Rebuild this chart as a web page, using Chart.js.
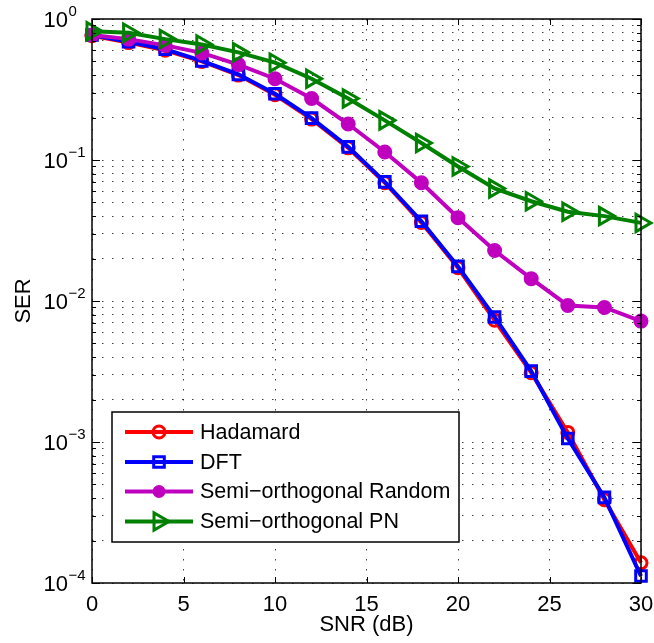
<!DOCTYPE html>
<html>
<head>
<meta charset="utf-8">
<script src="https://cdn.jsdelivr.net/npm/chart.js@4/dist/chart.umd.min.js"></script>
<style>
  body { margin: 0; background: #fff; }
  #wrap { width: 654px; height: 643px; }
</style>
</head>
<body>
<div id="wrap"><canvas id="chart" width="654" height="643"></canvas></div>
<script>
// SNR in dB
const snr = [0, 2, 4, 6, 8, 10, 12, 14, 16, 18, 20, 22, 24, 26, 28, 30];

// SER je Verfahren
const hadamard   = [0.76, 0.68, 0.60, 0.50, 0.40, 0.29, 0.195, 0.122, 0.069, 0.036, 0.0172, 0.0073, 0.0031, 0.00117, 0.00039, 0.000139];
const dft        = [0.77, 0.69, 0.61, 0.505, 0.405, 0.295, 0.198, 0.124, 0.070, 0.0368, 0.0176, 0.0077, 0.00318, 0.00106, 0.000405, 0.000112];
const semiRandom = [0.77, 0.72, 0.65, 0.575, 0.475, 0.377, 0.273, 0.18, 0.114, 0.069, 0.039, 0.0228, 0.0144, 0.0093, 0.0090, 0.0072];
const semiPN     = [0.82, 0.80, 0.72, 0.66, 0.58, 0.49, 0.377, 0.273, 0.191, 0.132, 0.090, 0.0628, 0.051, 0.043, 0.040, 0.0358];

const seriesNames = ['Hadamard', 'DFT', 'Semi\u2212orthogonal Random', 'Semi\u2212orthogonal PN'];

// Achsen-Ticks
const xTicks = [0, 5, 10, 15, 20, 25, 30];
const yDecades = [1e-4, 1e-3, 1e-2, 1e-1, 1];
const yExponents = ['\u22124', '\u22123', '\u22122', '\u22121', '0'];
const yMinorSteps = [2, 3, 4, 5, 6, 7, 8, 9];

const FONT = '"Liberation Sans", Arial, Helvetica, sans-serif';
Chart.defaults.color = '#000';
Chart.defaults.font.family = FONT;

// alle Gitterwerte der log-Achse
const yGrid = [];
yDecades.forEach((d, i) => {
  yGrid.push(d);
  if (i < yDecades.length - 1) yMinorSteps.forEach(s => yGrid.push(+(d * s).toPrecision(3)));
});

function toXY(vals) {
  return vals.map((v, i) => ({ x: snr[i], y: v }));
}

const styles = [
  { color: '#ff0000', pointStyle: 'circle', radius: 6, fill: 'rgba(0,0,0,0)', rotation: 0, order: 4 },
  { color: '#0000ff', pointStyle: 'rect', radius: 7.5, fill: 'rgba(0,0,0,0)', rotation: 0, order: 3 },
  { color: '#bf00bf', pointStyle: 'circle', radius: 6, fill: '#bf00bf', rotation: 0, order: 2 },
  { color: '#008000', pointStyle: 'triangle', radius: 10, fill: 'rgba(0,0,0,0)', rotation: 90, order: 1 }
];
const seriesData = [hadamard, dft, semiRandom, semiPN];

const datasets = seriesData.map((vals, i) => ({
  label: seriesNames[i],
  data: toXY(vals),
  borderColor: styles[i].color,
  backgroundColor: styles[i].fill,
  borderWidth: 4,
  pointStyle: styles[i].pointStyle,
  pointRadius: styles[i].radius,
  pointRotation: styles[i].rotation,
  pointBorderWidth: 3,
  pointBackgroundColor: styles[i].fill,
  pointBorderColor: styles[i].color,
  tension: 0,
  clip: false,
  order: styles[i].order
}));

// Rahmen, Ticks innen, y-Beschriftung, Legende
const matlabLook = {
  id: 'matlabLook',
  afterDraw(chart) {
    const { ctx, chartArea: a, scales } = chart;
    const xs = scales.x, ys = scales.y;
    ctx.save();

    // Rahmen
    ctx.strokeStyle = '#000';
    ctx.lineWidth = 1.5;
    ctx.setLineDash([]);
    ctx.strokeRect(a.left, a.top, a.right - a.left, a.bottom - a.top);

    // Ticks innen
    ctx.lineWidth = 1;
    ctx.beginPath();
    xTicks.forEach(v => {
      const px = Math.round(xs.getPixelForValue(v)) + 0.5;
      ctx.moveTo(px, a.bottom); ctx.lineTo(px, a.bottom - 6);
      ctx.moveTo(px, a.top); ctx.lineTo(px, a.top + 6);
    });
    yGrid.forEach(v => {
      const py = Math.round(ys.getPixelForValue(v)) + 0.5;
      const len = yDecades.includes(v) ? 8 : 4;
      ctx.moveTo(a.left, py); ctx.lineTo(a.left + len, py);
      ctx.moveTo(a.right, py); ctx.lineTo(a.right - len, py);
    });
    ctx.stroke();

    // y-Beschriftung 10^n
    ctx.fillStyle = '#000';
    yDecades.forEach((d, i) => {
      const py = ys.getPixelForValue(d);
      ctx.font = '22px ' + FONT;
      ctx.textAlign = 'right';
      ctx.textBaseline = 'middle';
      ctx.fillText('10', 68, py + 2);
      ctx.font = '15px ' + FONT;
      ctx.textAlign = 'left';
      ctx.fillText(yExponents[i], 68.5, py - 7);
    });

    // Legende
    const box = { left: 112, top: 412, right: 459, bottom: 542 };
    ctx.fillStyle = '#fff';
    ctx.fillRect(box.left, box.top, box.right - box.left, box.bottom - box.top);
    ctx.strokeStyle = '#000';
    ctx.lineWidth = 1.5;
    ctx.strokeRect(box.left, box.top, box.right - box.left, box.bottom - box.top);
    const rowY = [432, 462, 491.5, 521.5];
    chart.data.datasets.forEach((ds, i) => {
      const y = rowY[i];
      ctx.strokeStyle = ds.borderColor;
      ctx.lineWidth = 4;
      ctx.beginPath();
      ctx.moveTo(125, y); ctx.lineTo(193, y);
      ctx.stroke();
      ctx.fillStyle = ds.pointBackgroundColor;
      ctx.lineWidth = 3;
      Chart.helpers.drawPoint(ctx, {
        pointStyle: ds.pointStyle,
        radius: i === 2 ? 5 : ds.pointRadius,
        rotation: ds.pointRotation,
        borderWidth: 3
      }, 159, y);
      ctx.fillStyle = '#000';
      ctx.font = '21.5px ' + FONT;
      ctx.textAlign = 'left';
      ctx.textBaseline = 'middle';
      ctx.fillText(ds.label, 200, y + 1);
    });

    ctx.restore();
  }
};

new Chart(document.getElementById('chart'), {
  type: 'line',
  data: { datasets: datasets },
  options: {
    responsive: false,
    animation: false,
    layout: { padding: { top: 19, right: 12, left: 0, bottom: 0 } },
    plugins: { legend: { display: false }, tooltip: { enabled: false } },
    scales: {
      x: {
        type: 'linear',
        min: 0,
        max: 30,
        afterBuildTicks: s => { s.ticks = xTicks.map(v => ({ value: v })); },
        afterFit: s => { s.height = 60; s.paddingLeft = 0; s.paddingRight = 0; },
        ticks: { font: { size: 22 }, padding: 9, autoSkip: false, maxRotation: 0 },
        grid: { color: 'rgba(0,0,0,0.75)', lineWidth: 1, drawTicks: false },
        border: { display: false, dash: [1.5, 8.5] },
        title: { display: true, text: 'SNR (dB)', font: { size: 22 }, padding: { top: 0, bottom: 5 } }
      },
      y: {
        type: 'logarithmic',
        min: 1e-4,
        max: 1,
        afterBuildTicks: s => { s.ticks = yGrid.map(v => ({ value: v })); },
        afterFit: s => { s.width = 92; s.paddingTop = 0; s.paddingBottom = 0; },
        ticks: { display: false, autoSkip: false },
        grid: { color: 'rgba(0,0,0,0.75)', lineWidth: 1, drawTicks: false },
        border: { display: false, dash: [1.5, 8.5] },
        title: { display: true, text: 'SER', font: { size: 22 }, padding: { top: 11, bottom: 0 } }
      }
    }
  },
  plugins: [matlabLook]
});
</script>
</body>
</html>
